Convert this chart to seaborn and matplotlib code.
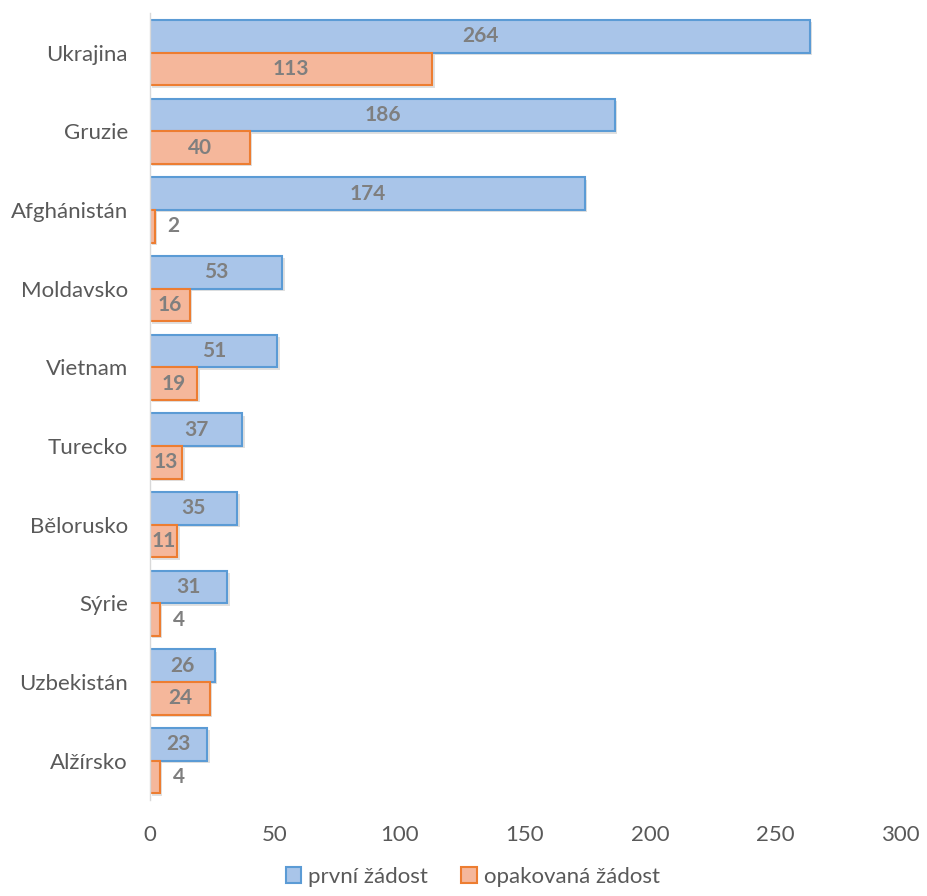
import pandas as pd
import numpy as np
import matplotlib
matplotlib.use("Agg")
import matplotlib.pyplot as plt
import matplotlib.patheffects as pe
import seaborn as sns

countries = ['Ukrajina', 'Gruzie', 'Afghánistán', 'Moldavsko', 'Vietnam',
             'Turecko', 'Bělorusko', 'Sýrie', 'Uzbekistán', 'Alžírsko']
prvni = [264, 186, 174, 53, 51, 37, 35, 31, 26, 23]
opakovana = [113, 40, 2, 16, 19, 13, 11, 4, 24, 4]
series = ['první žádost', 'opakovaná žádost']

df = pd.DataFrame({
    'zeme': countries * 2,
    'pocet': prvni + opakovana,
    'typ': [series[0]] * len(countries) + [series[1]] * len(countries),
})

sns.set_style("white")
plt.rcParams['font.family'] = ['Lato', 'DejaVu Sans']

fills = {series[0]: '#a9c5e9', series[1]: '#f5b79b'}
edges = {series[0]: '#5b9bd5', series[1]: '#ed7d31'}

fig = plt.figure(figsize=(9.27, 8.96), dpi=100)
ax = fig.add_axes([0.1618, 0.107, 0.809, 0.878])

sns.barplot(data=df, x='pocet', y='zeme', hue='typ', orient='h',
            palette=fills, saturation=1, width=0.83, ax=ax, legend=False)

# edges, shadow and labels
n = len(countries)
for i, patch in enumerate(ax.patches[:2 * n]):
    s = series[0] if i < n else series[1]
    patch.set_edgecolor(edges[s])
    patch.set_linewidth(1.5)
    patch.set_path_effects([pe.SimplePatchShadow(offset=(1.5, -1.5), shadow_rgbFace='#000000', alpha=0.12),
                            pe.Normal()])
    w = patch.get_width()
    yc = patch.get_y() + patch.get_height() / 2
    if w < 5:
        ax.text(w + 5, yc, f'{int(w)}', ha='left', va='center',
                fontsize=15, fontweight='bold', color='#7f7f7f')
    else:
        ax.text(w / 2, yc, f'{int(w)}', ha='center', va='center',
                fontsize=15, fontweight='bold', color='#7f7f7f')

ax.set_xlim(0, 300)
ax.set_xticks(np.arange(0, 301, 50))
ax.set_xlabel('')
ax.set_ylabel('')
ax.tick_params(axis='both', labelsize=16, colors='#595959', length=0)
ax.tick_params(axis='x', pad=18)
ax.tick_params(axis='y', pad=16)
for side in ['top', 'right', 'bottom']:
    ax.spines[side].set_visible(False)
ax.spines['left'].set_color('#d9d9d9')
ax.spines['left'].set_linewidth(1)

handles = [plt.Rectangle((0, 0), 1, 1, facecolor=fills[s], edgecolor=edges[s], linewidth=1.5)
           for s in series]
leg = fig.legend(handles, series, loc='lower center', bbox_to_anchor=(0.51, -0.012), ncol=2,
                 frameon=False, fontsize=16, handlelength=0.7, handleheight=0.7,
                 handletextpad=0.3, columnspacing=1.5)
for t in leg.get_texts():
    t.set_color('#595959')

fig.savefig('out.png', dpi=100)
